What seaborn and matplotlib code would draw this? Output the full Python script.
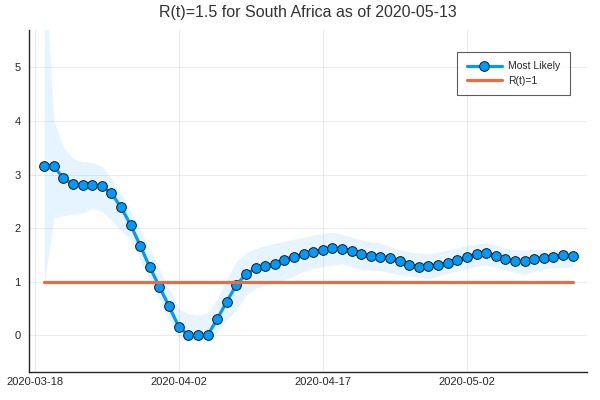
import numpy as np
import pandas as pd
import matplotlib
matplotlib.use("Agg")
import matplotlib.pyplot as plt
import matplotlib.dates as mdates
import seaborn as sns

# ---- data ----
start_date = "2020-03-19"
n_days = 56
most_likely = [3.16, 3.16, 2.93, 2.82, 2.80, 2.80, 2.78, 2.65, 2.39, 2.06,
               1.67, 1.27, 0.90, 0.54, 0.16, 0.00, 0.00, 0.00, 0.30, 0.63,
               0.94, 1.14, 1.25, 1.29, 1.33, 1.41, 1.47, 1.51, 1.55, 1.60,
               1.63, 1.62, 1.58, 1.51, 1.48, 1.47, 1.44, 1.38, 1.32, 1.28,
               1.29, 1.32, 1.35, 1.40, 1.46, 1.52, 1.53, 1.48, 1.42, 1.38,
               1.38, 1.42, 1.45, 1.47, 1.49, 1.48]
upper = [7.00, 4.00, 3.52, 3.30, 3.24, 3.23, 3.15, 2.93, 2.62, 2.32,
         1.96, 1.60, 1.24, 0.86, 0.50, 0.40, 0.37, 0.42, 0.68, 1.05,
         1.38, 1.54, 1.62, 1.67, 1.72, 1.75, 1.79, 1.83, 1.87, 1.90,
         1.92, 1.89, 1.83, 1.78, 1.75, 1.72, 1.66, 1.60, 1.56, 1.53,
         1.52, 1.55, 1.59, 1.63, 1.68, 1.71, 1.73, 1.68, 1.62, 1.60,
         1.59, 1.60, 1.60, 1.60, 1.60, 1.59]
lower = [0.95, 2.19, 2.23, 2.26, 2.29, 2.37, 2.31, 2.15, 1.95, 1.78,
         1.40, 1.03, 0.66, 0.25, -0.05, -0.10, -0.10, -0.08, 0.05, 0.29,
         0.47, 0.75, 0.88, 0.93, 0.98, 1.03, 1.11, 1.19, 1.25, 1.28,
         1.31, 1.34, 1.28, 1.22, 1.22, 1.21, 1.17, 1.13, 1.11, 1.08,
         1.06, 1.10, 1.16, 1.20, 1.25, 1.29, 1.31, 1.27, 1.22, 1.17,
         1.14, 1.19, 1.24, 1.26, 1.27, 1.27]
rt_one = 1.0
tick_dates = ["2020-03-18", "2020-04-02", "2020-04-17", "2020-05-02"]
y_ticks = [0, 1, 2, 3, 4, 5]
title = "R(t)=1.5 for South Africa as of 2020-05-13"

dates = pd.date_range(start_date, periods=n_days, freq="D")
df = pd.DataFrame({"date": dates, "Most Likely": most_likely,
                   "upper": upper, "lower": lower,
                   "R(t)=1": [rt_one] * n_days})

# ---- style ----
sns.set_theme(style="white")
plt.rcParams["font.family"] = ["Liberation Sans", "DejaVu Sans"]

blue = "#009AFA"
orange = "#E26F46"

fig = plt.figure(figsize=(6, 4), dpi=100)
ax = fig.add_axes([29 / 600, 1 - 371.7 / 400, (587 - 29) / 600, (371.7 - 30) / 400])

ax.fill_between(df["date"], df["lower"], df["upper"], color=blue, alpha=0.1,
                linewidth=0, zorder=1)
sns.lineplot(data=df, x="date", y="Most Likely", ax=ax, color=blue, linewidth=2.3,
             marker="o", markersize=7, markerfacecolor=blue,
             markeredgecolor="#1a1a1a", markeredgewidth=0.7,
             label="Most Likely", zorder=3)
sns.lineplot(data=df, x="date", y="R(t)=1", ax=ax, color=orange, linewidth=2.3,
             label="R(t)=1", zorder=4)

x0 = pd.Timestamp("2020-03-18")
ax.set_xlim(x0 - pd.Timedelta(hours=14), x0 + pd.Timedelta(hours=int(57.5 * 24)))
ax.set_ylim(-0.68, 5.70)

ax.set_xticks(pd.to_datetime(tick_dates))
ax.xaxis.set_major_formatter(mdates.DateFormatter("%Y-%m-%d"))
ax.set_yticks(y_ticks)
ax.set_xlabel("")
ax.set_ylabel("")

ax.grid(True, color="#000000", alpha=0.09, linewidth=0.6)
for s in ["top", "right"]:
    ax.spines[s].set_visible(False)
for s in ["left", "bottom"]:
    ax.spines[s].set_color("#262626")
    ax.spines[s].set_linewidth(1.0)
ax.tick_params(axis="both", direction="in", length=4, width=0.8, colors="#262626",
               labelsize=8, labelcolor="#262626")
ax.tick_params(axis="y", pad=6)
ax.tick_params(axis="x", pad=4)

ax.set_title(title, fontsize=11.5, color="#333333", pad=9)

leg = ax.legend(loc="upper right", bbox_to_anchor=(0.9695, 0.9356), borderaxespad=0,
                fontsize=7.5, frameon=True, fancybox=False, handlelength=3.4,
                numpoints=1, borderpad=0.9, labelspacing=0.45, handletextpad=0.6)
leg.get_frame().set_edgecolor("#333333")
leg.get_frame().set_linewidth(0.8)
for t in leg.get_texts():
    t.set_color("#262626")

fig.savefig("out.png", dpi=100)
